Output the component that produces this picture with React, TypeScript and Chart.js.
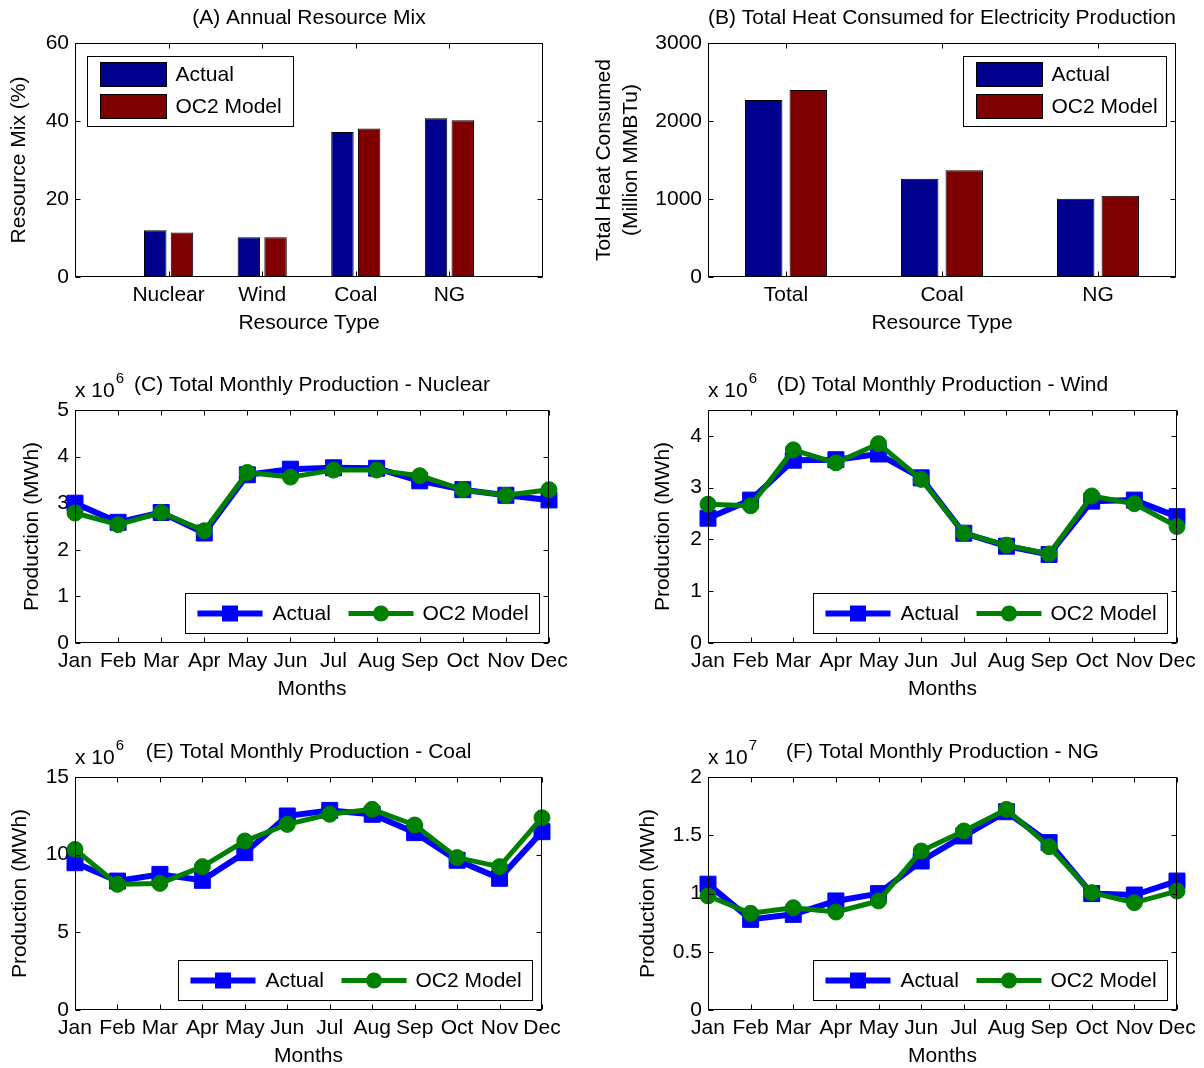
import React, { useEffect, useRef } from 'react';
import { Chart, registerables } from 'chart.js';

Chart.register(...registerables);

const FONT = '"Liberation Sans", Arial, Helvetica, sans-serif';
const FS = 21;

// ---------- Panel A: Annual Resource Mix (%) ----------
const resourceTypes = ['Nuclear', 'Wind', 'Coal', 'NG'];
const mixActual = [12.0, 10.2, 37.2, 40.7];
const mixModel = [11.4, 10.2, 38.1, 40.2];
const mixTicks = [0, 20, 40, 60];
const mixTickLabels = ['0', '20', '40', '60'];

// ---------- Panel B: Total Heat Consumed (Million MMBTu) ----------
const heatTypes = ['Total', 'Coal', 'NG'];
const heatActual = [2270, 1260, 1003];
const heatModel = [2396, 1367, 1041];
const heatTicks = [0, 1000, 2000, 3000];
const heatTickLabels = ['0', '1000', '2000', '3000'];

// ---------- Monthly production ----------
const months = ['Jan', 'Feb', 'Mar', 'Apr', 'May', 'Jun', 'Jul', 'Aug', 'Sep', 'Oct', 'Nov', 'Dec'];

// Nuclear (x 10^6 MWh)
const nuclearActual = [3.0, 2.59, 2.8, 2.36, 3.61, 3.73, 3.76, 3.75, 3.48, 3.29, 3.17, 3.07];
const nuclearModel = [2.79, 2.54, 2.8, 2.41, 3.66, 3.56, 3.71, 3.71, 3.59, 3.29, 3.17, 3.29];
const nuclearTicks = [0, 1, 2, 3, 4, 5];
const nuclearTickLabels = ['0', '1', '2', '3', '4', '5'];

// Wind (x 10^6 MWh)
const windActual = [2.41, 2.76, 3.53, 3.54, 3.65, 3.19, 2.12, 1.87, 1.71, 2.74, 2.76, 2.44];
const windModel = [2.68, 2.65, 3.73, 3.48, 3.85, 3.16, 2.12, 1.89, 1.72, 2.84, 2.69, 2.25];
const windTicks = [0, 1, 2, 3, 4];
const windTickLabels = ['0', '1', '2', '3', '4'];

// Coal (x 10^6 MWh)
const coalActual = [9.48, 8.3, 8.73, 8.35, 10.13, 12.49, 12.85, 12.6, 11.42, 9.64, 8.48, 11.48];
const coalModel = [10.34, 8.09, 8.15, 9.23, 10.88, 11.95, 12.6, 12.92, 11.91, 9.81, 9.23, 12.38];
const coalTicks = [0, 5, 10, 15];
const coalTickLabels = ['0', '5', '10', '15'];

// NG (x 10^7 MWh)
const ngActual = [1.08, 0.778, 0.821, 0.936, 0.999, 1.279, 1.494, 1.702, 1.437, 0.999, 0.987, 1.107];
const ngModel = [0.979, 0.83, 0.878, 0.841, 0.936, 1.365, 1.537, 1.722, 1.402, 1.007, 0.921, 1.021];
const ngTicks = [0, 0.5, 1, 1.5, 2];
const ngTickLabels = ['0', '0.5', '1', '1.5', '2'];

const seriesNames = ['Actual', 'OC2 Model'];

const BAR_ACTUAL = '#00008F';
const BAR_MODEL = '#800000';
const LINE_ACTUAL = '#0000FF';
const LINE_MODEL = '#008000';
const SQUARE_R = 11.3;
const CIRCLE_R = 8;

type Rect = { x: number; y: number; w: number; h: number };
type Plot = { l: number; t: number; r: number; b: number };

interface PanelSpec {
  id: string;
  type: 'bar' | 'line';
  canvas: Rect;
  plot: Plot;
  labels: string[];
  offset: boolean;
  datasets: any[];
  yMin: number;
  yMax: number;
  yTicks: number[];
  yTickLabels: string[];
  xTickIdx: number[];
  title: string;
  exponent?: string;
  yTitle: string[];
  yTitleX: number[];
  xTitle: string;
  legend: 'nw' | 'ne' | 'se';
}

function barSets(a: number[], m: number[], pad: boolean) {
  const wrap = (v: number[]) => (pad ? [null, ...v, null] : v);
  const common = { borderColor: '#000', borderWidth: 1, categoryPercentage: 0.571, barPercentage: 0.84 };
  return [
    { label: seriesNames[0], data: wrap(a), backgroundColor: BAR_ACTUAL, ...common },
    { label: seriesNames[1], data: wrap(m), backgroundColor: BAR_MODEL, ...common },
  ];
}

function lineSets(a: number[], m: number[]) {
  return [
    {
      label: seriesNames[0], data: a, order: 2,
      borderColor: LINE_ACTUAL, backgroundColor: LINE_ACTUAL, borderWidth: 6,
      pointStyle: 'rect', pointRadius: SQUARE_R, pointBorderWidth: 1,
      pointBackgroundColor: LINE_ACTUAL, pointBorderColor: LINE_ACTUAL,
      clip: false, tension: 0, borderJoinStyle: 'round',
    },
    {
      label: seriesNames[1], data: m, order: 1,
      borderColor: LINE_MODEL, backgroundColor: LINE_MODEL, borderWidth: 5,
      pointStyle: 'circle', pointRadius: CIRCLE_R, pointBorderWidth: 1,
      pointBackgroundColor: LINE_MODEL, pointBorderColor: LINE_MODEL,
      clip: false, tension: 0, borderJoinStyle: 'round',
    },
  ];
}

const monthIdx = months.map((_, i) => i);

const PANELS: PanelSpec[] = [
  {
    id: 'A', type: 'bar',
    canvas: { x: 0, y: 0, w: 600, h: 345 },
    plot: { l: 75, t: 43, r: 543, b: 277 },
    labels: ['', ...resourceTypes, ''], offset: false,
    datasets: barSets(mixActual, mixModel, true),
    yMin: 0, yMax: 60, yTicks: mixTicks, yTickLabels: mixTickLabels,
    xTickIdx: resourceTypes.map((_, i) => i + 1),
    title: '(A) Annual Resource Mix',
    yTitle: ['Resource Mix (%)'], yTitleX: [19],
    xTitle: 'Resource Type', legend: 'nw',
  },
  {
    id: 'B', type: 'bar',
    canvas: { x: 590, y: 0, w: 614, h: 345 },
    plot: { l: 708, t: 43, r: 1176, b: 277 },
    labels: heatTypes, offset: true,
    datasets: barSets(heatActual, heatModel, false),
    yMin: 0, yMax: 3000, yTicks: heatTicks, yTickLabels: heatTickLabels,
    xTickIdx: heatTypes.map((_, i) => i),
    title: '(B) Total Heat Consumed for Electricity Production',
    yTitle: ['Total Heat Consumed', '(Million MMBTu)'], yTitleX: [604, 631],
    xTitle: 'Resource Type', legend: 'ne',
  },
  {
    id: 'C', type: 'line',
    canvas: { x: 0, y: 355, w: 600, h: 355 },
    plot: { l: 75, t: 410, r: 549, b: 643 },
    labels: months, offset: false,
    datasets: lineSets(nuclearActual, nuclearModel),
    yMin: 0, yMax: 5, yTicks: nuclearTicks, yTickLabels: nuclearTickLabels,
    xTickIdx: monthIdx,
    title: '(C) Total Monthly Production - Nuclear', exponent: '6',
    yTitle: ['Production (MWh)'], yTitleX: [32],
    xTitle: 'Months', legend: 'se',
  },
  {
    id: 'D', type: 'line',
    canvas: { x: 600, y: 355, w: 604, h: 355 },
    plot: { l: 708, t: 410, r: 1177, b: 643 },
    labels: months, offset: false,
    datasets: lineSets(windActual, windModel),
    yMin: 0, yMax: 4.5, yTicks: windTicks, yTickLabels: windTickLabels,
    xTickIdx: monthIdx,
    title: '(D) Total Monthly Production - Wind', exponent: '6',
    yTitle: ['Production (MWh)'], yTitleX: [663],
    xTitle: 'Months', legend: 'se',
  },
  {
    id: 'E', type: 'line',
    canvas: { x: 0, y: 722, w: 600, h: 346 },
    plot: { l: 75, t: 777, r: 542, b: 1010 },
    labels: months, offset: false,
    datasets: lineSets(coalActual, coalModel),
    yMin: 0, yMax: 15, yTicks: coalTicks, yTickLabels: coalTickLabels,
    xTickIdx: monthIdx,
    title: '(E) Total Monthly Production - Coal', exponent: '6',
    yTitle: ['Production (MWh)'], yTitleX: [20],
    xTitle: 'Months', legend: 'se',
  },
  {
    id: 'F', type: 'line',
    canvas: { x: 600, y: 722, w: 604, h: 346 },
    plot: { l: 708, t: 777, r: 1177, b: 1010 },
    labels: months, offset: false,
    datasets: lineSets(ngActual, ngModel),
    yMin: 0, yMax: 2, yTicks: ngTicks, yTickLabels: ngTickLabels,
    xTickIdx: monthIdx,
    title: '(F) Total Monthly Production - NG', exponent: '7',
    yTitle: ['Production (MWh)'], yTitleX: [648],
    xTitle: 'Months', legend: 'se',
  },
];

function drawMarker(ctx: CanvasRenderingContext2D, kind: 'rect' | 'circle', x: number, y: number, color: string) {
  ctx.fillStyle = color;
  ctx.beginPath();
  if (kind === 'rect') {
    const s = SQUARE_R * Math.SQRT1_2;
    ctx.rect(x - s, y - s, 2 * s, 2 * s);
  } else {
    ctx.arc(x, y, CIRCLE_R, 0, Math.PI * 2);
  }
  ctx.fill();
}

function decor(p: PanelSpec) {
  return {
    id: 'decor' + p.id,
    afterDraw(chart: any) {
      const ctx: CanvasRenderingContext2D = chart.ctx;
      const { left, top, right, bottom } = chart.chartArea;
      const ox = p.canvas.x;
      const xs = chart.scales.x;
      const ys = chart.scales.y;
      ctx.save();

      // axes frame
      ctx.strokeStyle = '#000';
      ctx.lineWidth = 1;
      const L = Math.round(left) + 0.5;
      const T = Math.round(top) + 0.5;
      const R = Math.round(right) - 0.5;
      const B = Math.round(bottom) - 0.5;
      ctx.strokeRect(L, T, R - L, B - T);

      // inward tick marks
      ctx.beginPath();
      p.xTickIdx.forEach((i) => {
        const x = Math.round(xs.getPixelForValue(i)) + 0.5;
        ctx.moveTo(x, B); ctx.lineTo(x, B - 5);
        ctx.moveTo(x, T); ctx.lineTo(x, T + 5);
      });
      p.yTicks.forEach((v) => {
        const y = Math.round(ys.getPixelForValue(v)) + 0.5;
        ctx.moveTo(L, y); ctx.lineTo(L + 5, y);
        ctx.moveTo(R, y); ctx.lineTo(R - 5, y);
      });
      ctx.stroke();

      // title
      ctx.fillStyle = '#000';
      ctx.font = `${FS}px ${FONT}`;
      ctx.textAlign = 'center';
      ctx.textBaseline = 'middle';
      ctx.fillText(p.title, (left + right) / 2, top - 25);
      if (p.exponent) {
        ctx.textAlign = 'left';
        ctx.fillText('x 10', left, top - 19);
        const w = ctx.measureText('x 10').width;
        ctx.font = `15px ${FONT}`;
        ctx.fillText(p.exponent, left + w + 1, top - 31);
        ctx.font = `${FS}px ${FONT}`;
      }

      // axis titles
      ctx.textAlign = 'center';
      p.yTitle.forEach((t, k) => {
        ctx.save();
        ctx.translate(p.yTitleX[k] - ox, (top + bottom) / 2);
        ctx.rotate(-Math.PI / 2);
        ctx.fillText(t, 0, 0);
        ctx.restore();
      });
      ctx.fillText(p.xTitle, (left + right) / 2, bottom + 46);

      // legend
      if (p.legend === 'se') {
        const w = 354, h = 40;
        const bx = Math.round(right - 10 - w) + 0.5;
        const by = Math.round(bottom - 10 - h) + 0.5;
        ctx.fillStyle = '#fff';
        ctx.fillRect(bx, by, w, h);
        ctx.strokeStyle = '#000';
        ctx.lineWidth = 1;
        ctx.strokeRect(bx, by, w, h);
        const cy = by + h / 2;
        const entries = [
          { x0: 12, color: LINE_ACTUAL, lw: 6, kind: 'rect' as const, tx: 87 },
          { x0: 163, color: LINE_MODEL, lw: 5, kind: 'circle' as const, tx: 237 },
        ];
        entries.forEach((e, k) => {
          ctx.strokeStyle = e.color;
          ctx.lineWidth = e.lw;
          ctx.beginPath();
          ctx.moveTo(bx + e.x0, cy);
          ctx.lineTo(bx + e.x0 + 65, cy);
          ctx.stroke();
          drawMarker(ctx, e.kind, bx + e.x0 + 32.5, cy, e.color);
          ctx.fillStyle = '#000';
          ctx.textAlign = 'left';
          ctx.textBaseline = 'middle';
          ctx.fillText(seriesNames[k], bx + e.tx, cy + 1);
        });
      } else {
        const w = p.legend === 'nw' ? 206 : 203;
        const h = 70;
        const bx = p.legend === 'nw' ? Math.round(left + 12) + 0.5 : Math.round(right - 10 - w) + 0.5;
        const by = Math.round(top + 13) + 0.5;
        ctx.fillStyle = '#fff';
        ctx.fillRect(bx, by, w, h);
        ctx.strokeStyle = '#000';
        ctx.lineWidth = 1;
        ctx.strokeRect(bx, by, w, h);
        const colors = [BAR_ACTUAL, BAR_MODEL];
        [18, 50].forEach((dy, k) => {
          ctx.fillStyle = colors[k];
          ctx.fillRect(bx + 13, by + dy - 12, 66, 24);
          ctx.strokeStyle = '#000';
          ctx.strokeRect(bx + 13, by + dy - 12, 66, 24);
          ctx.fillStyle = '#000';
          ctx.textAlign = 'left';
          ctx.textBaseline = 'middle';
          ctx.fillText(seriesNames[k], bx + 88, by + dy + 1);
        });
      }
      ctx.restore();
    },
  };
}

function buildConfig(p: PanelSpec): any {
  const c = p.canvas;
  const pl = p.plot;
  const tickFont = { family: FONT, size: FS };
  return {
    type: p.type,
    data: { labels: p.labels, datasets: p.datasets },
    options: {
      responsive: false,
      animation: false,
      events: [],
      layout: { padding: { left: 0, top: pl.t - c.y, right: c.x + c.w - pl.r, bottom: 0 } },
      plugins: { legend: { display: false }, tooltip: { enabled: false }, title: { display: false } },
      scales: {
        x: {
          type: 'category',
          offset: p.offset,
          grid: { display: false, drawTicks: false },
          border: { display: false },
          ticks: { autoSkip: false, maxRotation: 0, minRotation: 0, padding: 6, color: '#000', font: tickFont },
          afterFit: (s: any) => { s.height = c.y + c.h - pl.b; },
        },
        y: {
          type: 'linear',
          min: p.yMin,
          max: p.yMax,
          grid: { display: false, drawTicks: false },
          border: { display: false },
          afterBuildTicks: (s: any) => { s.ticks = p.yTicks.map((v) => ({ value: v })); },
          ticks: {
            padding: 6, color: '#000', font: tickFont,
            callback: (_v: any, i: number) => p.yTickLabels[i],
          },
          afterFit: (s: any) => { s.width = pl.l - c.x; },
        },
      },
    },
    plugins: [decor(p)],
  };
}

export default function App() {
  const refs = useRef<(HTMLCanvasElement | null)[]>([]);
  useEffect(() => {
    const charts = PANELS.map((p, i) => new Chart(refs.current[i] as HTMLCanvasElement, buildConfig(p)));
    return () => charts.forEach((ch) => ch.destroy());
  }, []);
  return (
    <div style={{ position: 'absolute', left: 0, top: 0, width: 1204, height: 1068, background: '#fff' }}>
      {PANELS.map((p, i) => (
        <canvas
          key={p.id}
          ref={(el) => { refs.current[i] = el; }}
          width={p.canvas.w}
          height={p.canvas.h}
          style={{ position: 'absolute', left: p.canvas.x, top: p.canvas.y, width: p.canvas.w, height: p.canvas.h }}
        />
      ))}
    </div>
  );
}
